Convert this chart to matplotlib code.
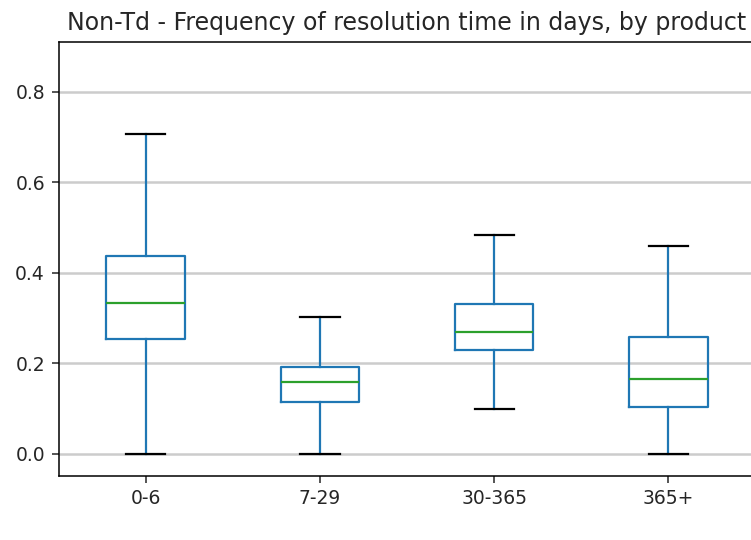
import matplotlib
matplotlib.use("Agg")
import matplotlib.pyplot as plt

# box stats
labels = ["0-6", "7-29", "30-365", "365+"]
whislo = [0.0, 0.0, 0.100, 0.0]
q1 = [0.253, 0.114, 0.230, 0.104]
med = [0.334, 0.159, 0.270, 0.165]
q3 = [0.437, 0.192, 0.331, 0.258]
whishi = [0.706, 0.302, 0.484, 0.460]

stats = []
for i in range(len(labels)):
    stats.append(dict(label=labels[i], whislo=whislo[i], q1=q1[i], med=med[i],
                      q3=q3[i], whishi=whishi[i], fliers=[]))

fig = plt.figure(figsize=(7.51, 5.4), dpi=100)
ax = fig.add_axes([0.078, 0.119, 0.928, 0.803])

ax.bxp(stats, widths=0.45, showfliers=False,
       boxprops=dict(color="#1f77b4", linewidth=1.6),
       whiskerprops=dict(color="#1f77b4", linewidth=1.6),
       capprops=dict(color="black", linewidth=1.6),
       medianprops=dict(color="#2ca02c", linewidth=1.6))

ax.set_ylim(-0.048, 0.909)
ax.set_xlim(0.5, 4.5)
ax.set_yticks([0.0, 0.2, 0.4, 0.6, 0.8])
ax.yaxis.grid(True, color="#cccccc", linewidth=1.8)
ax.set_axisbelow(True)
for s in ax.spines.values():
    s.set_linewidth(1.1)
ax.tick_params(labelsize=13.5, length=4.9, width=1.1, pad=4.9, colors="#262626")
ax.set_title("Non-Td - Frequency of resolution time in days, by product",
             fontsize=17, color="#262626", pad=9)

fig.savefig("out.png", dpi=100)
